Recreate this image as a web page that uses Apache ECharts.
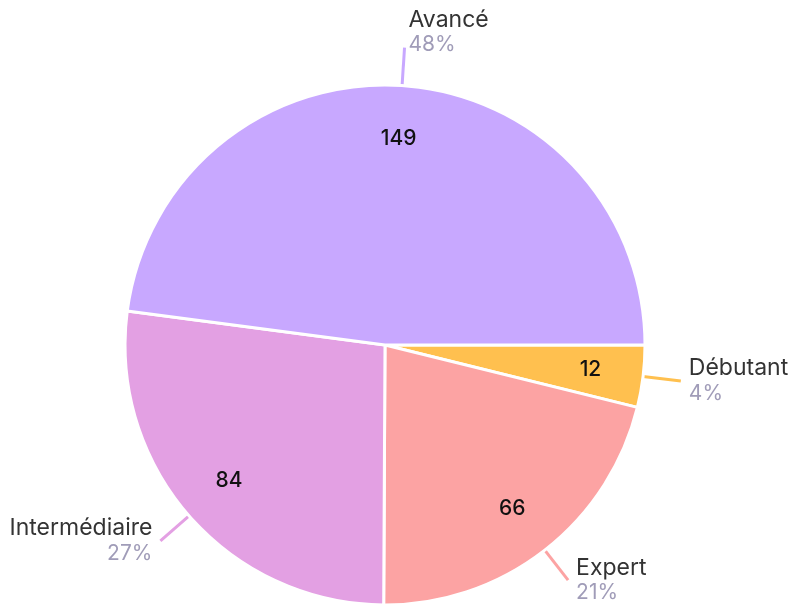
<!DOCTYPE html>
<html lang="fr">
<head>
    <meta charset="UTF-8">
    <title>Niveaux</title>
    <script src="https://cdn.jsdelivr.net/npm/echarts@6/dist/echarts.min.js"></script>
    <style>
        html, body { margin: 0; padding: 0; background: #fff; }
    </style>
</head>
<body>
<div id="main" style="width: 793px;height:607px;"></div>
<script>
    // données
    let niveaux = ['Débutant', 'Expert', 'Intermédiaire', 'Avancé'];
    let effectifs = [12, 66, 84, 149];
    let couleurs = ['#ffc04f', '#fca3a3', '#e3a0e3', '#c8a8ff'];

    let fontFamily = 'Inter, "Noto Sans", sans-serif';

    let pieData = niveaux.map(function (n, i) {
        let item = {name: n, value: effectifs[i], itemStyle: {color: couleurs[i]}};
        // l'étiquette du haut est remontée au-dessus du trait
        if (n === 'Avancé') {
            item.label = {offset: [-4, -15]};
        }
        return item;
    });

    let chart = echarts.init(document.getElementById('main'));
    let option = {
        animation: false,
        series: [
            {
                // parts + étiquettes extérieures
                type: 'pie',
                center: [385, 345],
                radius: [0, 260],
                startAngle: 0,
                clockwise: true,
                data: pieData,
                itemStyle: {borderColor: '#fff', borderWidth: 3},
                label: {
                    show: true,
                    position: 'outside',
                    distanceToLabelLine: 8,
                    overflow: 'none',
                    edgeDistance: 0,
                    fontFamily: fontFamily,
                    formatter: function (p) {
                        return '{name|' + p.name + '}\n{per|' + Math.round(p.percent) + '%}';
                    },
                    rich: {
                        name: {fontSize: 23, color: '#333', lineHeight: 25, fontFamily: fontFamily},
                        per: {fontSize: 21, color: '#a09cb8', lineHeight: 25, fontFamily: fontFamily}
                    }
                },
                labelLine: {
                    show: true,
                    length: 38,
                    length2: 0,
                    lineStyle: {width: 3}
                },
                emphasis: {disabled: true}
            },
            {
                // valeurs à l'intérieur
                type: 'pie',
                center: [385, 345],
                radius: [148, 260],
                startAngle: 0,
                clockwise: true,
                silent: true,
                data: pieData.map(function (d) {
                    return {name: d.name, value: d.value, itemStyle: {color: 'rgba(0,0,0,0)'}};
                }),
                itemStyle: {borderWidth: 0},
                label: {
                    show: true,
                    position: 'inside',
                    formatter: '{c}',
                    fontSize: 21,
                    fontWeight: 500,
                    color: '#111',
                    fontFamily: fontFamily
                },
                labelLine: {show: false},
                emphasis: {disabled: true}
            }
        ]
    };
    chart.setOption(option);
</script>
</body>
</html>
